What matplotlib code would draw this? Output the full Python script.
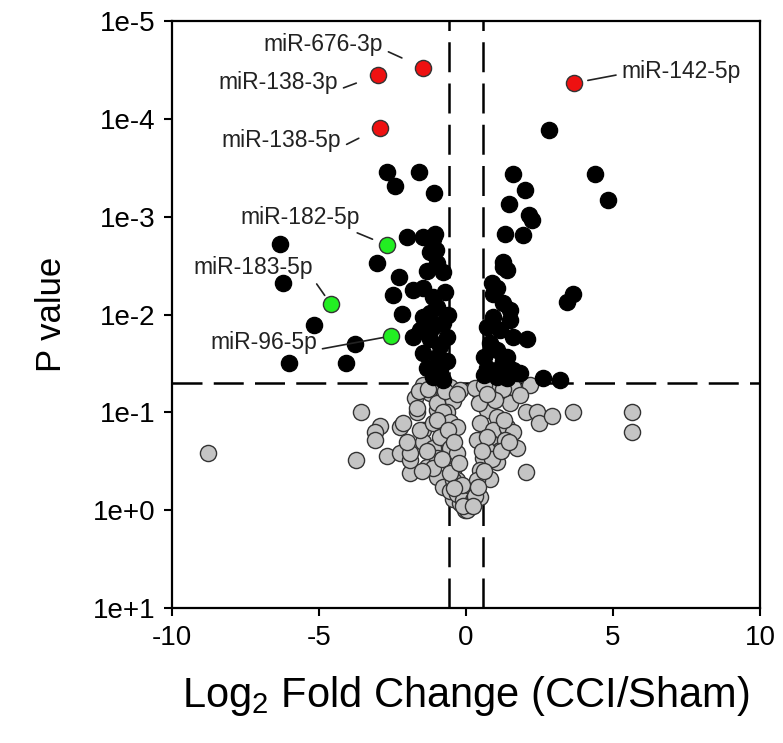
import matplotlib
matplotlib.use("Agg")
import matplotlib.pyplot as plt
import numpy as np

plt.rcParams["font.family"] = ["Liberation Sans", "DejaVu Sans"]
plt.rcParams["mathtext.fontset"] = "custom"
plt.rcParams["mathtext.rm"] = "Liberation Sans"

# not significant (grey)
grey_x = [-8.78, -3.57, -2.93, -3.10, -3.10, -3.74, -2.69, -2.24, -2.24, -1.90,
          -1.90, -1.73, -1.67, -1.46, -1.33, -0.99, -0.78, -0.44, -0.03, -2.14,
          -1.46, -0.99, -1.22, -0.78, -0.44, -0.99, -0.65, -1.46, -1.12, -0.99,
          -0.65, -0.44, -0.31, -0.54, -0.20, -0.20, -1.67, -1.56, -1.90, -0.99,
          -0.78, -1.12, -0.54, -0.31, -0.88, -1.33, -0.54, -0.31, -1.12, -0.44,
          -0.31, -0.10, 0.03, 0.24, 0.37, -0.54, -0.88,
          0.48, 0.82, 1.16, 1.50, 0.71, 1.05, 0.48, 0.92, 1.39, 1.60,
          0.37, 0.82, 1.16, 1.73, 0.58, 1.05, 0.48, 0.82, 0.37, 0.48,
          2.04, 2.41, 2.48, 2.93, 3.64, 2.04, 5.65, 5.65, 2.18, 1.60,
          0.82, -0.20, 0.31, 1.84, 1.33, 0.71, 0.14, 0.31, 1.27, 0.62,
          -1.60, -1.30, -0.70, -0.30, -1.00, -0.60, -0.40, -0.80, -0.55, -0.25,
          -0.15, -0.40, -1.50, -2.00, -0.10,
          0.45, 0.70, 1.00, 1.30, 0.90, 0.60, 0.40, 0.25, 1.20, 0.55, 1.45, 0.70]
grey_p = [0.26, 0.10, 0.138, 0.16, 0.19, 0.31, 0.28, 0.14, 0.26, 0.42,
          0.31, 0.071, 0.10, 0.15, 0.36, 0.46, 0.58, 0.76, 1.0, 0.13,
          0.052, 0.055, 0.063, 0.071, 0.076, 0.095, 0.10, 0.20, 0.23, 0.29,
          0.31, 0.39, 0.49, 0.63, 0.68, 0.85, 0.091, 0.15, 0.26, 0.081,
          0.10, 0.13, 0.126, 0.14, 0.18, 0.25, 0.23, 0.26, 0.37, 0.49,
          0.68, 0.79, 1.0, 0.79, 0.63, 0.055, 0.052,
          0.063, 0.055, 0.052, 0.081, 0.095, 0.112, 0.13, 0.15, 0.14, 0.16,
          0.19, 0.20, 0.245, 0.234, 0.29, 0.32, 0.39, 0.48, 0.49, 0.74,
          0.10, 0.10, 0.13, 0.11, 0.10, 0.41, 0.10, 0.16, 0.052, 0.055,
          0.051, 0.059, 0.056, 0.066, 0.19, 0.245, 0.89, 0.71, 0.058, 0.053,
          0.060, 0.058, 0.060, 0.065, 0.12, 0.15, 0.20, 0.30, 0.42, 0.33,
          0.55, 0.60, 0.40, 0.20, 0.90,
          0.080, 0.18, 0.075, 0.12, 0.30, 0.40, 0.58, 0.90, 0.25, 0.25, 0.20, 0.065]

# significant (black)
black_x = [-2.70, -2.41, -1.61, -1.09, -6.33, -6.21, -6.01, -5.17, -4.08, -3.78,
           -3.02, -2.02, -1.45, -1.05, -2.27, -1.81, -2.47, -2.19, -1.79, -1.34,
           -1.12, -1.22, -0.99, -0.78, -1.46, -1.12, -0.99, -1.22, -1.46, -0.78,
           -1.12, -0.65, -1.22, -0.88, -1.46, -0.99, -1.33, -0.88, -1.12, -0.78,
           -0.65, -0.71, -1.56, -0.62, -1.02,
           2.83, 1.59, 2.01, 4.39, 4.84, 1.47, 2.15, 2.23, 1.33, 1.95,
           1.27, 1.38, 3.43, 3.65, 0.87, 0.93, 1.50, 1.26, 1.26, 1.50,
           2.07, 1.60, 0.82, 0.62, 1.26, 1.73, 2.63, 3.20, 1.05, 0.92,
           0.71, 1.16, 1.05, 1.39, 0.71, 1.16, 1.60, 1.84, 0.62, 1.05, 1.39]
black_p = [3.5e-4, 4.9e-4, 3.5e-4, 5.7e-4, 1.9e-3, 4.8e-3, 0.031, 0.0128, 0.031, 0.020,
           2.95e-3, 1.6e-3, 1.6e-3, 1.5e-3, 4.1e-3, 5.6e-3, 6.3e-3, 9.8e-3, 0.017, 3.6e-3,
           1.7e-3, 2.3e-3, 3.0e-3, 3.7e-3, 5.3e-3, 6.6e-3, 8.3e-3, 9.7e-3, 0.0107, 0.0123,
           0.0135, 0.017, 0.018, 0.021, 0.0245, 0.0275, 0.035, 0.037, 0.044, 0.047,
           0.030, 5.9e-3, 0.0145, 0.0102, 2.2e-3,
           1.3e-4, 3.7e-4, 5.3e-4, 3.7e-4, 6.8e-4, 7.4e-4, 9.6e-4, 1.07e-3, 1.5e-3, 1.55e-3,
           2.9e-3, 3.5e-3, 7.4e-3, 6.1e-3, 4.8e-3, 6.1e-3, 8.9e-3, 3.3e-3, 7.6e-3, 0.0115,
           0.018, 0.017, 0.0195, 0.0275, 0.030, 0.040, 0.0447, 0.047, 5.4e-3, 0.0107,
           0.0135, 0.0145, 0.023, 0.0275, 0.035, 0.035, 0.037, 0.040, 0.042, 0.044, 0.045]

# highlighted miRNAs
red_names = ["miR-676-3p", "miR-138-3p", "miR-138-5p", "miR-142-5p"]
red_x = [-1.45, -2.98, -2.93, 3.68]
red_p = [3.0e-5, 3.55e-5, 1.23e-4, 4.3e-5]

green_names = ["miR-182-5p", "miR-183-5p", "miR-96-5p"]
green_x = [-2.70, -4.59, -2.55]
green_p = [1.95e-3, 7.9e-3, 0.0166]

fc_cut = 0.585
p_cut = 0.05

fig = plt.figure(figsize=(7.83, 7.43), dpi=100)
ax = fig.add_axes([0.2197, 0.1817, 0.7509, 0.79])

ms = 135
ax.scatter(grey_x, grey_p, s=ms, facecolor="#c4c4c4", edgecolor="#333333", linewidth=1.0, zorder=2)
ax.scatter(black_x, black_p, s=ms, facecolor="black", edgecolor="black", linewidth=1.0, zorder=3)
ax.scatter(red_x, red_p, s=ms, facecolor="#ee1111", edgecolor="#333333", linewidth=1.0, zorder=4)
ax.scatter(green_x, green_p, s=ms, facecolor="#22ee22", edgecolor="#333333", linewidth=1.0, zorder=4)

dash = dict(color="black", linewidth=1.8, dashes=(12, 4.5), zorder=1)
ax.axhline(p_cut, **dash)
ax.axvline(-fc_cut, **dash)
ax.axvline(fc_cut, **dash)

ax.set_xlim(-10, 10)
ax.set_yscale("log")
ax.set_ylim(10, 1e-5)
ax.set_xticks([-10, -5, 0, 5, 10])
ax.set_xticklabels(["-10", "-5", "0", "5", "10"])
yt = [1e-5, 1e-4, 1e-3, 1e-2, 1e-1, 1e0, 1e1]
ax.set_yticks(yt)
ax.set_yticklabels(["1e-5", "1e-4", "1e-3", "1e-2", "1e-1", "1e+0", "1e+1"])
ax.minorticks_off()
ax.tick_params(axis="both", labelsize=20, length=6, width=1.5, direction="out", pad=6)
for s in ax.spines.values():
    s.set_linewidth(1.6)

ax.set_ylabel("P value", fontsize=25, labelpad=18)
ax.set_xlabel(r"Log$_{\mathrm{2}}$ Fold Change (CCI/Sham)", fontsize=30, labelpad=17)

# label placement: (text x, text p, ha, relpos, shrinkB)
label_pos = {
    "miR-676-3p": (-2.82, 1.75e-5, "right", (1.0, 0.3), 17),
    "miR-138-3p": (-4.35, 4.3e-5, "right", (1.0, 0.2), 17),
    "miR-138-5p": (-4.24, 1.65e-4, "right", (1.0, 0.2), 17),
    "miR-142-5p": (5.29, 3.3e-5, "left", (0.0, 0.4), 10),
    "miR-182-5p": (-3.61, 1.02e-3, "right", (0.9, 0.0), 11),
    "miR-183-5p": (-5.20, 3.3e-3, "right", (1.0, 0.0), 8),
    "miR-96-5p": (-5.07, 0.0195, "right", (1.0, 0.2), 6),
}
for names, xs, ps in [(red_names, red_x, red_p), (green_names, green_x, green_p)]:
    for n, x, p in zip(names, xs, ps):
        tx, tp, ha, rp, sb = label_pos[n]
        ax.annotate(n, xy=(x, p), xytext=(tx, tp), textcoords="data",
                    ha=ha, va="center", fontsize=16.5, color="#222222",
                    arrowprops=dict(arrowstyle="-", color="#222222", lw=1.2,
                                    relpos=rp, shrinkA=2, shrinkB=sb),
                    zorder=5)

fig.savefig("out.png", dpi=100)
